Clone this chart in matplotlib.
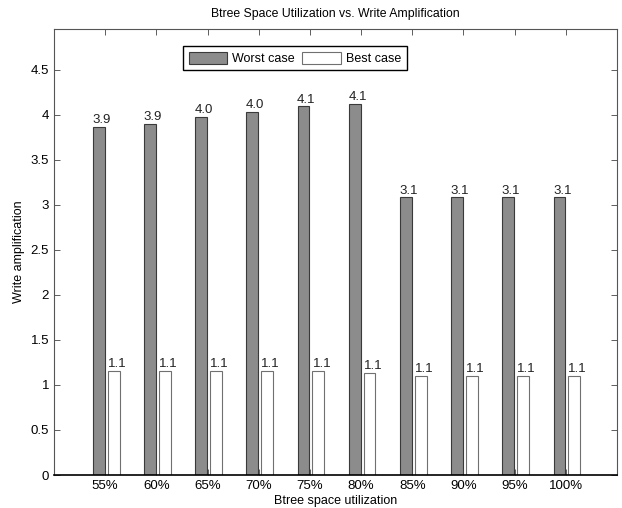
import matplotlib
matplotlib.use("Agg")
import matplotlib.pyplot as plt
import numpy as np

plt.rcParams['font.family'] = ['Liberation Sans', 'DejaVu Sans']

# data
categories = ['55%', '60%', '65%', '70%', '75%', '80%', '85%', '90%', '95%', '100%']
worst_case = [3.86, 3.90, 3.97, 4.03, 4.09, 4.12, 3.08, 3.08, 3.08, 3.08]
best_case = [1.15, 1.15, 1.15, 1.15, 1.15, 1.13, 1.10, 1.10, 1.10, 1.10]

x = np.arange(1, len(categories) + 1)
w = 0.23

fig = plt.figure(figsize=(6.22, 5.08), dpi=100)
ax = fig.add_axes([54/622, 33/508, 563/622, 446/508])

ax.bar(x - 0.125, worst_case, w, color='#8c8c8c', edgecolor='#3a3a3a', linewidth=0.8, label='Worst case')
ax.bar(x + 0.165, best_case, w, color='white', edgecolor='#707070', linewidth=0.8, label='Best case')

for xi, v in zip(x - 0.125, worst_case):
    ax.text(xi - w/2 - 0.01, v + 0.01, '%.1f' % v, ha='left', va='bottom', fontsize=9.5, color='#222222')
for xi, v in zip(x + 0.165, best_case):
    ax.text(xi - w/2, v + 0.01, '%.1f' % v, ha='left', va='bottom', fontsize=9.5, color='#222222')

ax.set_xlim(0, 11)
ax.set_ylim(0, 4.95)
ax.set_xticks(x)
ax.set_xticklabels(categories, fontsize=9.5)
ax.set_yticks(np.arange(0, 4.6, 0.5))
ax.set_yticklabels(['0', '0.5', '1', '1.5', '2', '2.5', '3', '3.5', '4', '4.5'], fontsize=9.5)
ax.tick_params(direction='in', top=True, right=True, length=4, width=0.6, color='#444444')
for s in ax.spines.values():
    s.set_color('#555555')
    s.set_linewidth(0.8)
ax.spines['bottom'].set_color('black')
ax.spines['bottom'].set_linewidth(1.2)

ax.set_xlabel('Btree space utilization', fontsize=9, labelpad=2)
ax.set_ylabel('Write amplification', fontsize=9)
ax.set_title('Btree Space Utilization vs. Write Amplification', fontsize=8.8, pad=9)

leg = ax.legend(loc='upper left', bbox_to_anchor=(0.229, 0.962), borderaxespad=0, ncol=2, fontsize=9,
                fancybox=False, framealpha=1, edgecolor='black', handlelength=3.1,
                handleheight=1.1, columnspacing=0.6, borderpad=0.45, handletextpad=0.4)
leg.get_frame().set_linewidth(1.0)

fig.savefig('out.png', dpi=100)
